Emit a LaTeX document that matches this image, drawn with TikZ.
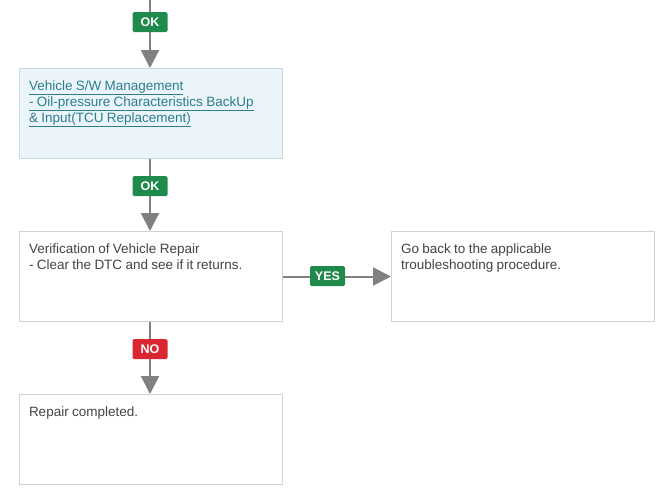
\documentclass[tikz,border=0pt]{standalone}
\usepackage{fontspec}
\setmainfont{Liberation Sans}
\usetikzlibrary{arrows.meta}
\definecolor{txt}{HTML}{444444}
\definecolor{lnk}{HTML}{2C7D8E}
\definecolor{bluefill}{HTML}{EBF4F8}
\definecolor{blueedge}{HTML}{C3DCE6}
\definecolor{grayedge}{HTML}{D2D2D2}
\definecolor{conn}{HTML}{808080}
\definecolor{okgreen}{HTML}{1F8A4C}
\definecolor{nored}{HTML}{D92630}
\newcommand{\boxtext}[1]{\vbox to 90pt{\vskip 12pt\fontsize{13.5}{16}\selectfont #1\vfill}}
\tikzset{
  x=1pt, y=-1pt,
  stepbox/.style={draw=grayedge, line width=1pt, fill=white, anchor=north west, inner xsep=9.5pt, inner ysep=0pt, text width=244pt, align=left, text=txt},
  bluebox/.style={stepbox, draw=blueedge, fill=bluefill, text=lnk},
  badge/.style={rounded corners=1.5pt, text=white, font=\fontsize{12.5}{12.5}\selectfont\bfseries, minimum width=35pt, minimum height=20pt, inner sep=0pt},
  okbadge/.style={badge, fill=okgreen},
  nobadge/.style={badge, fill=nored},
  conn/.style={draw=conn, line width=2pt},
  arr/.style={conn, -{Triangle[length=18pt,width=18pt]}}
}
\begin{document}
\begin{tikzpicture}
\useasboundingbox (0,0) rectangle (667,499);
\node[bluebox] (b1) at (19,68) {\boxtext{\underline{Vehicle S/W Management}\\\underline{- Oil-pressure Characteristics BackUp}\\\underline{\&~Input(TCU Replacement)}}};
\node[stepbox] (b2) at (19,231) {\boxtext{Verification of Vehicle Repair\\- Clear the DTC and see if it returns.}};
\node[stepbox] (b3) at (391,231) {\boxtext{Go back to the applicable\\troubleshooting procedure.}};
\node[stepbox] (b4) at (19,394) {\boxtext{Repair completed.}};
\coordinate (top) at (150,0);
\draw[arr] (top) -- (b1.north -| top);
\draw[arr] (b1.south -| top) -- (b2.north -| top);
\draw[arr] (b2.east) -- (b3.west);
\draw[arr] (b2.south -| top) -- (b4.north -| top);
\node[okbadge] (ok1) at (150,22) {OK};
\node[okbadge] (ok2) at (150,186) {OK};
\node[okbadge] (yes) at (327.5,276) {YES};
\node[nobadge] (no) at (150,349) {NO};
\end{tikzpicture}
\end{document}
